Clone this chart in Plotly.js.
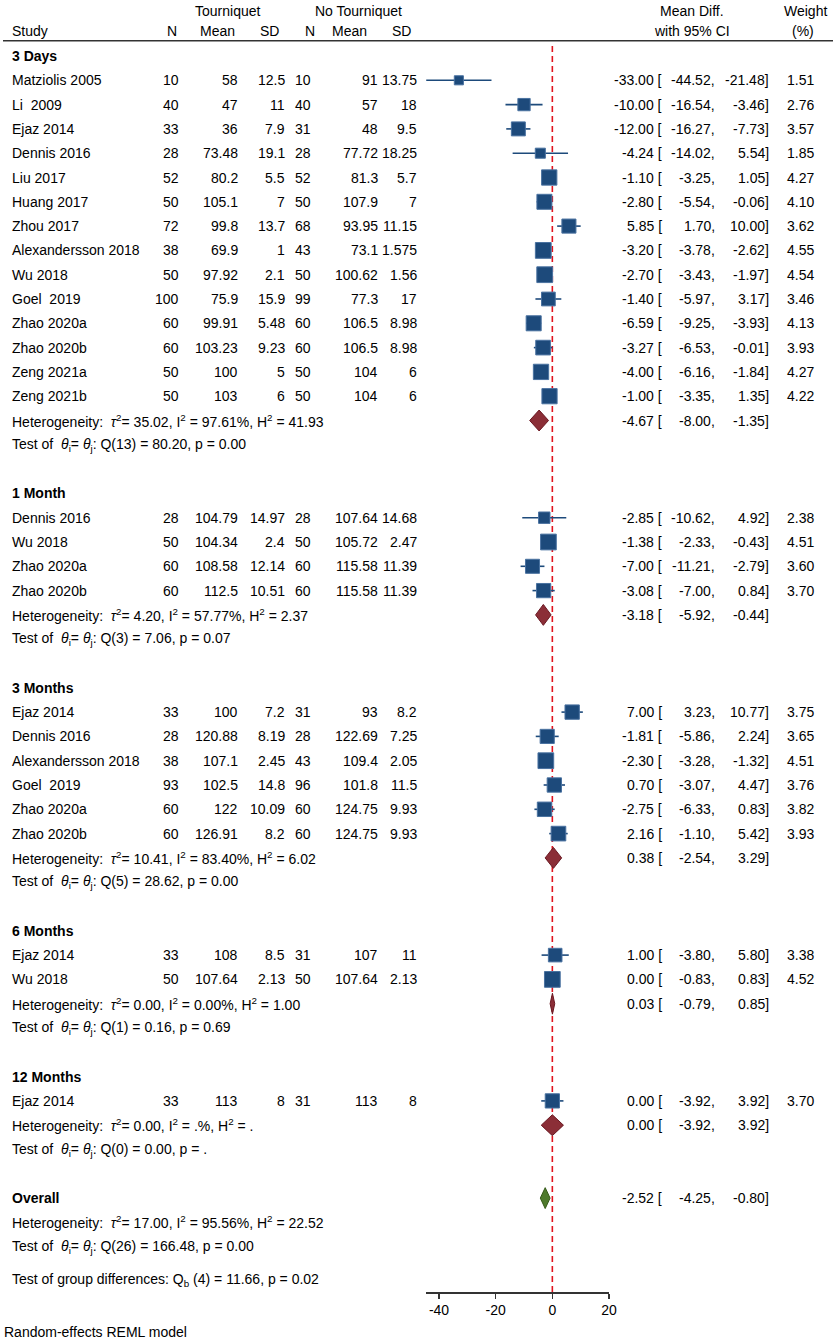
<!DOCTYPE html>
<html>
<head>
<meta charset="utf-8">
<script src="https://cdn.plot.ly/plotly-3.0.1.min.js"></script>
<style>html,body{margin:0;padding:0;background:#fff;}#chart{width:836px;height:1339px;}</style>
</head>
<body>
<div id="chart"></div>
<script>
// ---------------- DATA ----------------
const groups = ['3 Days', '1 Month', '3 Months', '6 Months', '12 Months'];
const groupSize = [14, 4, 6, 2, 1];

const study = ['Matziolis 2005','Li  2009','Ejaz 2014','Dennis 2016','Liu 2017','Huang 2017','Zhou 2017','Alexandersson 2018','Wu 2018','Goel  2019','Zhao 2020a','Zhao 2020b','Zeng 2021a','Zeng 2021b',
  'Dennis 2016','Wu 2018','Zhao 2020a','Zhao 2020b',
  'Ejaz 2014','Dennis 2016','Alexandersson 2018','Goel  2019','Zhao 2020a','Zhao 2020b',
  'Ejaz 2014','Wu 2018',
  'Ejaz 2014'];
const n1    = [10,40,33,28,52,50,72,38,50,100,60,60,50,50, 28,50,60,60, 33,28,38,93,60,60, 33,50, 33];
const mean1 = [58,47,36,73.48,80.2,105.1,99.8,69.9,97.92,75.9,99.91,103.23,100,103, 104.79,104.34,108.58,112.5, 100,120.88,107.1,102.5,122,126.91, 108,107.64, 113];
const sd1   = [12.5,11,7.9,19.1,5.5,7,13.7,1,2.1,15.9,5.48,9.23,5,6, 14.97,2.4,12.14,10.51, 7.2,8.19,2.45,14.8,10.09,8.2, 8.5,2.13, 8];
const n2    = [10,40,31,28,52,50,68,43,50,99,60,60,50,50, 28,50,60,60, 31,28,43,96,60,60, 31,50, 31];
const mean2 = [91,57,48,77.72,81.3,107.9,93.95,73.1,100.62,77.3,106.5,106.5,104,104, 107.64,105.72,115.58,115.58, 93,122.69,109.4,101.8,124.75,124.75, 107,107.64, 113];
const sd2   = [13.75,18,9.5,18.25,5.7,7,11.15,1.575,1.56,17,8.98,8.98,6,6, 14.68,2.47,11.39,11.39, 8.2,7.25,2.05,11.5,9.93,9.93, 11,2.13, 8];
const es    = [-33.00,-10.00,-12.00,-4.24,-1.10,-2.80,5.85,-3.20,-2.70,-1.40,-6.59,-3.27,-4.00,-1.00, -2.85,-1.38,-7.00,-3.08, 7.00,-1.81,-2.30,0.70,-2.75,2.16, 1.00,0.00, 0.00];
const ciLo  = [-44.52,-16.54,-16.27,-14.02,-3.25,-5.54,1.70,-3.78,-3.43,-5.97,-9.25,-6.53,-6.16,-3.35, -10.62,-2.33,-11.21,-7.00, 3.23,-5.86,-3.28,-3.07,-6.33,-1.10, -3.80,-0.83, -3.92];
const ciHi  = [-21.48,-3.46,-7.73,5.54,1.05,-0.06,10.00,-2.62,-1.97,3.17,-3.93,-0.01,-1.84,1.35, 4.92,-0.43,-2.79,0.84, 10.77,2.24,-1.32,4.47,0.83,5.42, 5.80,0.83, 3.92];
const weight= [1.51,2.76,3.57,1.85,4.27,4.10,3.62,4.55,4.54,3.46,4.13,3.93,4.27,4.22, 2.38,4.51,3.60,3.70, 3.75,3.65,4.51,3.76,3.82,3.93, 3.38,4.52, 3.70];

const grpES  = [-4.67, -3.18, 0.38, 0.03, 0.00];
const grpLo  = [-8.00, -5.92, -2.54, -0.79, -3.92];
const grpHi  = [-1.35, -0.44, 3.29, 0.85, 3.92];
const grpTau2 = ['35.02', '4.20', '10.41', '0.00', '0.00'];
const grpI2   = ['97.61%', '57.77%', '83.40%', '0.00%', '.%'];
const grpH2   = ['41.93', '2.37', '6.02', '1.00', '.'];
const grpQdf  = [13, 3, 5, 1, 0];
const grpQ    = ['80.20', '7.06', '28.62', '0.16', '0.00'];
const grpP    = ['0.00', '0.07', '0.00', '0.69', '.'];

const overall = {es: -2.52, lo: -4.25, hi: -0.80, tau2: '17.00', i2: '95.56%', h2: '22.52', qdf: 26, q: '166.48', p: '0.00'};
const groupDiff = {df: 4, q: '11.66', p: '0.02'};
const xTicks = [-40, -20, 0, 20];

// ---------------- LAYOUT HELPERS ----------------
const W = 836, H = 1339;
const ROW0 = 56, ROWH = 24.3, AXISPX = 1292;
const pxToRow = p => (p - ROW0) / ROWH;
const FONT = 'Liberation Sans, Arial, Helvetica, sans-serif';
const FS = 14;
const annotations = [];
function txt(text, px, row, anchor, bold) {
  annotations.push({
    text: bold ? '<b>' + text + '</b>' : text,
    x: px / W, xref: 'paper', xanchor: anchor,
    y: row, yref: 'y', yanchor: 'middle',
    showarrow: false, borderpad: 0,
    font: {family: FONT, size: FS, color: '#000'}
  });
}
const f2 = v => v.toFixed(2);
const hetText = (t, i, h) => 'Heterogeneity:  <i>τ</i><sup>2</sup>= ' + t + ', I<sup>2</sup> = ' + i + ', H<sup>2</sup> = ' + h;
const testText = (df, q, p) => 'Test of  <i>θ</i><sub>i</sub>= <i>θ</i><sub>j</sub>: Q(' + df + ') = ' + q + ', p = ' + p;

const COL = {study: 11, n1: 180, mean1: 239, sd1: 286, n2: 312, mean2: 379, sd2: 418, es: 663, lo: 716, hi: 770, wt: 815};

function ciTexts(e, l, h, row) {
  txt(f2(e) + ' [', COL.es, row, 'right');
  txt(f2(l) + ',', COL.lo, row, 'right');
  txt(f2(h) + ']', COL.hi, row, 'right');
}

// headers
const hr1 = pxToRow(10.5), hr2 = pxToRow(30.5);
txt('Tourniquet', 228, hr1, 'center');
txt('No Tourniquet', 358, hr1, 'center');
txt('Mean Diff.', 692, hr1, 'center');
txt('Weight', 805, hr1, 'center');
txt('Study', COL.study, hr2, 'left');
txt('N', 172, hr2, 'center');
txt('Mean', 217, hr2, 'center');
txt('SD', 269, hr2, 'center');
txt('N', 310, hr2, 'center');
txt('Mean', 349, hr2, 'center');
txt('SD', 401.5, hr2, 'center');
txt('with 95% CI', 692, hr2, 'center');
txt('(%)', 803, hr2, 'center');

// rows
const studyRow = [];
const diamonds = [];
let r = 0, k = 0;
groups.forEach((g, gi) => {
  txt(g, COL.study, r, 'left', true);
  r++;
  for (let j = 0; j < groupSize[gi]; j++, k++, r++) {
    studyRow.push(r);
    txt(study[k], COL.study, r, 'left');
    txt(String(n1[k]), COL.n1, r, 'right');
    txt(String(mean1[k]), COL.mean1, r, 'right');
    txt(String(sd1[k]), COL.sd1, r, 'right');
    txt(String(n2[k]), COL.n2, r, 'right');
    txt(String(mean2[k]), COL.mean2, r, 'right');
    txt(String(sd2[k]), COL.sd2, r, 'right');
    ciTexts(es[k], ciLo[k], ciHi[k], r);
    txt(f2(weight[k]), COL.wt, r, 'right');
  }
  txt(hetText(grpTau2[gi], grpI2[gi], grpH2[gi]), COL.study, r, 'left');
  ciTexts(grpES[gi], grpLo[gi], grpHi[gi], r);
  diamonds.push({es: grpES[gi], lo: grpLo[gi], hi: grpHi[gi], row: r, fill: '#8b2e37', line: '#6a1721'});
  r++;
  txt(testText(grpQdf[gi], grpQ[gi], grpP[gi]), COL.study, r, 'left');
  r += 2;
});
// overall
txt('Overall', COL.study, r, 'left', true);
ciTexts(overall.es, overall.lo, overall.hi, r);
diamonds.push({es: overall.es, lo: overall.lo, hi: overall.hi, row: r, fill: '#4e7a2c', line: '#355a18'});
txt(hetText(overall.tau2, overall.i2, overall.h2), COL.study, r + 1, 'left');
txt(testText(overall.qdf, overall.q, overall.p), COL.study, r + 2, 'left');
txt('Test of group differences: Q<sub>b</sub> (' + groupDiff.df + ') = ' + groupDiff.q + ', p = ' + groupDiff.p, COL.study, pxToRow(1280), 'left');
annotations.push({
  text: 'Random-effects REML model', x: 3 / W, xref: 'paper', xanchor: 'left',
  y: (H - 1332) / H, yref: 'paper', yanchor: 'middle', showarrow: false, borderpad: 0,
  font: {family: FONT, size: FS, color: '#000'}
});

// ---------------- TRACES ----------------
const traces = [];
const DH = 0.43;
diamonds.forEach(d => {
  traces.push({
    type: 'scatter', mode: 'lines', x: [d.lo, d.es, d.hi, d.es, d.lo],
    y: [d.row, d.row - DH, d.row, d.row + DH, d.row],
    fill: 'toself', fillcolor: d.fill, line: {color: d.line, width: 1},
    hoverinfo: 'skip', showlegend: false, cliponaxis: false
  });
});
traces.push({
  type: 'scatter', mode: 'markers', x: es, y: studyRow,
  marker: {symbol: 'square', opacity: 1, size: weight.map(w => 7.4 * Math.sqrt(w)), color: '#1d4a7b', line: {color: '#4a72a0', width: 1}},
  error_x: {type: 'data', symmetric: false, array: es.map((e, i) => ciHi[i] - e), arrayminus: es.map((e, i) => e - ciLo[i]), width: 0, thickness: 1.6, color: '#1d4a7b'},
  showlegend: false, cliponaxis: false, hoverinfo: 'skip'
});

const yBottom = pxToRow(AXISPX), yTop = pxToRow(0);
const layout = {
  width: W, height: H, margin: {l: 0, r: 0, t: 0, b: 0},
  paper_bgcolor: '#fff', plot_bgcolor: 'rgba(0,0,0,0)',
  showlegend: false,
  xaxis: {
    domain: [426 / W, 609 / W], range: [-44.6, 20], tickvals: xTicks, ticktext: xTicks.map(String),
    showline: true, linecolor: '#333', linewidth: 1.5, ticks: 'outside', ticklen: 5, tickwidth: 1.5, tickcolor: '#333',
    showgrid: false, zeroline: false, tickfont: {family: FONT, size: FS, color: '#000'}, fixedrange: true
  },
  yaxis: {domain: [(H - AXISPX) / H, 1], range: [yBottom, yTop], visible: false, fixedrange: true},
  shapes: [
    {type: 'line', xref: 'paper', yref: 'paper', x0: 3 / W, x1: 833 / W, y0: (H - 40.7) / H, y1: (H - 40.7) / H, line: {color: '#333', width: 1.5}},
    {type: 'line', xref: 'x', yref: 'paper', x0: 0, x1: 0, y0: (H - AXISPX) / H, y1: (H - 43) / H, line: {color: '#e0141e', width: 1.6, dash: '6px,4px'}, layer: 'below'}
  ],
  annotations: annotations
};
Plotly.newPlot('chart', traces, layout, {displayModeBar: false, staticPlot: true});
</script>
</body>
</html>
